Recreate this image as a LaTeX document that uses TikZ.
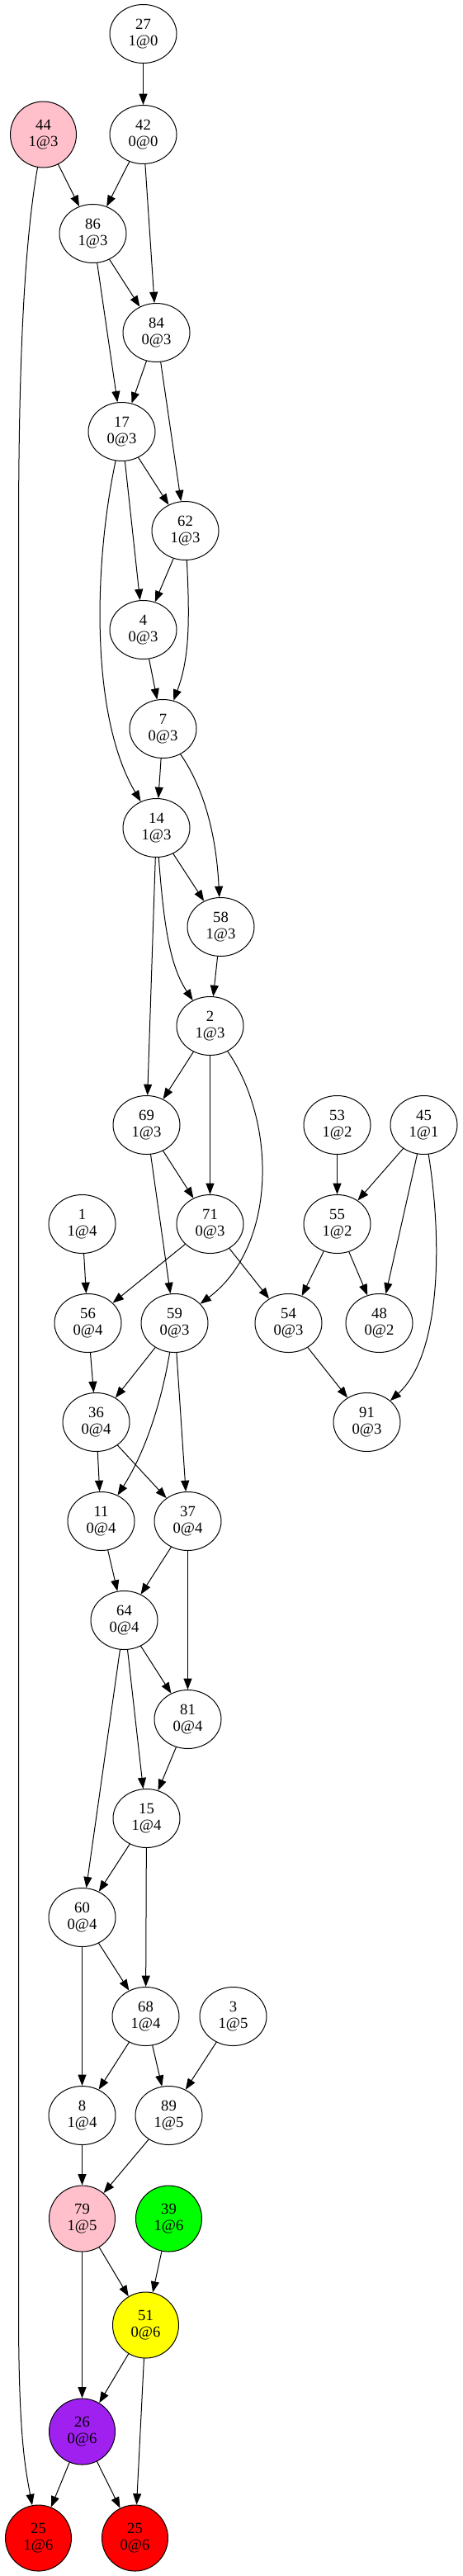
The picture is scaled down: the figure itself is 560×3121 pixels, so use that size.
\documentclass[tikz,border=0pt]{standalone}
\usepackage{fontspec}
\setmainfont{Liberation Serif}
\usetikzlibrary{arrows.meta,shapes.geometric}
\definecolor{cPink}{HTML}{FFC0CB}
\definecolor{cGreen}{HTML}{00FF00}
\definecolor{cYellow}{HTML}{FFFF00}
\definecolor{cPurple}{HTML}{A020F0}
\definecolor{cRed}{HTML}{FF0000}

\begin{document}
\begin{tikzpicture}[
  x=0.75pt, y=-0.75pt,
  font=\rmfamily\fontsize{14}{15}\selectfont,
  line cap=round,
  edge/.style={draw=black, line width=0.75pt,
    -{Triangle[length=10pt,width=7.5pt]}},
  vnode/.style={ellipse, draw, line width=0.75pt, minimum width=60.75pt,
    minimum height=53.25pt, inner sep=0pt, align=center},
  cnode/.style={circle, draw, line width=0.75pt, minimum size=60pt,
    inner sep=0pt, align=center},
]
\useasboundingbox (0,0) rectangle (560,3121);

\begin{scope}[xshift=0.375pt]
% ---- Nodes (rank by rank, top to bottom) ----
\node[vnode] (n27) at (173,41) {27\\1@0};
\node[cnode, fill=cPink] (n44) at (52,163) {44\\1@3};
\node[vnode] (n42) at (173,163) {42\\0@0};
\node[vnode] (n86) at (112,283) {86\\1@3};
\node[vnode] (n84) at (189,403) {84\\0@3};
\node[vnode] (n17) at (147,523) {17\\0@3};
\node[vnode] (n62) at (224,643) {62\\1@3};
\node[vnode] (n4) at (173,763) {4\\0@3};
\node[vnode] (n7) at (197,883) {7\\0@3};
\node[vnode] (n14) at (189,1003) {14\\1@3};
\node[vnode] (n58) at (267,1123) {58\\1@3};
\node[vnode] (n2) at (254,1243) {2\\1@3};
\node[vnode] (n69) at (177,1363) {69\\1@3};
\node[vnode] (n53) at (408,1363) {53\\1@2};
\node[vnode] (n45) at (513,1363) {45\\1@1};
\node[vnode] (n1) at (99,1483) {1\\1@4};
\node[vnode] (n71) at (254,1483) {71\\0@3};
\node[vnode] (n55) at (408,1483) {55\\1@2};
\node[vnode] (n56) at (106,1603) {56\\0@4};
\node[vnode] (n59) at (211,1603) {59\\0@3};
\node[vnode] (n54) at (349,1603) {54\\0@3};
\node[vnode] (n48) at (459,1603) {48\\0@2};
\node[vnode] (n36) at (116,1723) {36\\0@4};
\node[vnode] (n91) at (444,1723) {91\\0@3};
\node[vnode] (n11) at (122,1843) {11\\0@4};
\node[vnode] (n37) at (227,1843) {37\\0@4};
\node[vnode] (n64) at (150,1963) {64\\0@4};
\node[vnode] (n81) at (227,2083) {81\\0@4};
\node[vnode] (n15) at (177,2203) {15\\1@4};
\node[vnode] (n60) at (99,2323) {60\\0@4};
\node[vnode] (n68) at (176,2443) {68\\1@4};
\node[vnode] (n3) at (282,2443) {3\\1@5};
\node[vnode] (n8) at (99,2563) {8\\1@4};
\node[vnode] (n89) at (204,2563) {89\\1@5};
\node[cnode, fill=cPink] (n79) at (99,2688) {79\\1@5};
\node[cnode, fill=cGreen] (n39) at (204,2688) {39\\1@6};
\node[cnode, fill=cYellow] (n51) at (176,2817) {51\\0@6};
\node[cnode, fill=cPurple] (n26) at (99,2946) {26\\0@6};
\node[cnode, fill=cRed] (n25a) at (46,3075) {25\\1@6};
\node[cnode, fill=cRed] (n25b) at (163,3075) {25\\0@6};

% ---- Straight edges ----
\foreach \a/\b in {27/42, 44/86, 42/86, 42/84, 86/84, 86/17, 84/17, 84/62,
  17/62, 17/4, 62/4, 4/7, 7/14, 14/58, 14/69, 58/2, 2/69, 2/71, 69/71,
  69/59, 53/55, 45/55, 45/48, 71/56, 71/54, 1/56, 55/54, 55/48, 56/36,
  59/36, 59/37, 54/91, 36/11, 36/37, 11/64, 37/64, 37/81, 64/81, 64/15,
  64/60, 81/15, 15/60, 15/68, 60/68, 60/8, 68/8, 68/89, 3/89, 8/79,
  89/79, 79/51, 79/26, 39/51, 51/26, 51/25b, 26/25a, 26/25b}{
  \draw[edge] (n\a) -- (n\b);
}

% ---- Curved edges ----
\draw[edge] (n17) .. controls (112,690) and (110,870) .. (n14);
\draw[edge] (n62) .. controls (230,760) and (228,800) .. (n7);
\draw[edge] (n7) .. controls (250,960) and (262,1020) .. (n58);
\draw[edge] (n14) .. controls (198,1120) and (205,1170) .. (n2);
\draw[edge] (n2) .. controls (335,1360) and (335,1510) .. (n59);
\draw[edge] (n59) .. controls (195,1700) and (175,1760) .. (n11);
\draw[edge] (n45) .. controls (535,1500) and (535,1640) .. (n91);
\draw[edge] (n44) .. controls (28,300) and (22,450) .. (22,650)
  -- (22,2800) .. controls (22,2950) and (30,2990) .. (n25a);
\end{scope}

\end{tikzpicture}
\end{document}
